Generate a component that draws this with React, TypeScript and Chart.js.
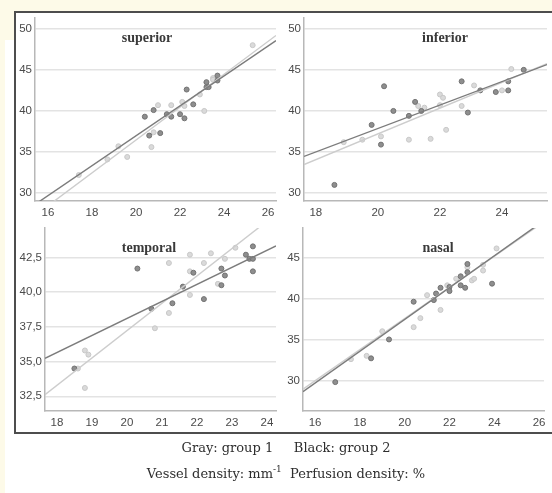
import { useEffect, useRef } from 'react';
import { Chart, registerables } from 'chart.js';

Chart.register(...registerables);

// ---------- data ----------
// superior
const supG1X = [17.4, 18.7, 19.2, 19.6, 20.7, 20.8, 21.0, 21.6, 22.1, 22.2, 22.9, 23.1, 23.5, 23.5, 25.3];
const supG1Y = [32.2, 34.1, 35.7, 34.4, 35.6, 37.4, 40.7, 40.7, 41.1, 40.6, 42.0, 40.0, 44.0, 43.8, 48.0];
const supG2X = [20.4, 20.6, 20.8, 21.1, 21.4, 21.6, 22.0, 22.2, 22.3, 22.6, 23.2, 23.2, 23.3, 23.7, 23.7];
const supG2Y = [39.3, 37.0, 40.1, 37.3, 39.6, 39.3, 39.6, 39.1, 42.6, 40.8, 43.5, 42.9, 42.9, 44.3, 43.7];
const supFit1X = [15.41, 26.36];
const supFit1Y = [27.28, 49.18];
const supFit2X = [15.41, 26.36];
const supFit2Y = [28.62, 48.55];
const supXRange = [15.41, 26.36];
const supYRange = [29.04, 51.32];
const supXTicks = [16, 18, 20, 22, 24, 26];
const supYTicks = [30, 35, 40, 45, 50];
const supXLabels = ['16', '18', '20', '22', '24', '26'];
const supYLabels = ['30', '35', '40', '45', '50'];

// inferior
const infG1X = [18.9, 19.5, 20.1, 21.0, 21.3, 21.5, 21.7, 22.0, 22.1, 22.0, 22.2, 22.7, 23.1, 24.0, 24.3];
const infG1Y = [36.2, 36.5, 36.9, 36.5, 40.6, 40.4, 36.6, 42.0, 41.6, 40.7, 37.7, 40.6, 43.1, 42.5, 45.1];
const infG2X = [18.6, 19.8, 20.1, 20.2, 20.5, 21.0, 21.2, 21.4, 22.7, 22.9, 23.3, 23.8, 24.2, 24.2, 24.7];
const infG2Y = [31.0, 38.3, 35.9, 43.0, 40.0, 39.4, 41.1, 40.0, 43.6, 39.8, 42.5, 42.3, 43.6, 42.5, 45.0];
const infFit1X = [17.62, 25.45];
const infFit1Y = [33.48, 45.75];
const infFit2X = [17.62, 25.45];
const infFit2Y = [34.46, 45.64];
const infXRange = [17.62, 25.45];
const infYRange = [29.04, 51.32];
const infXTicks = [18, 20, 22, 24];
const infYTicks = [30, 35, 40, 45, 50];
const infXLabels = ['18', '20', '22', '24'];
const infYLabels = ['30', '35', '40', '45', '50'];

// temporal
const temG1X = [18.6, 18.8, 18.9, 18.8, 20.8, 21.2, 21.2, 21.8, 21.8, 21.8, 22.2, 22.4, 22.6, 22.8, 23.1];
const temG1Y = [34.5, 35.8, 35.5, 33.1, 37.4, 42.1, 38.5, 42.7, 41.5, 39.8, 42.1, 42.8, 40.6, 42.4, 43.2];
const temG2X = [18.5, 20.3, 20.7, 21.3, 21.6, 21.9, 22.2, 22.7, 22.8, 22.7, 23.4, 23.5, 23.6, 23.6, 23.6];
const temG2Y = [34.5, 41.7, 38.8, 39.2, 40.4, 41.4, 39.5, 41.7, 41.2, 40.5, 42.7, 42.4, 43.3, 42.4, 41.5];
const temFit1X = [17.66, 24.26];
const temFit1Y = [32.62, 45.62];
const temFit2X = [17.66, 24.26];
const temFit2Y = [35.24, 43.33];
const temXRange = [17.66, 24.26];
const temYRange = [31.44, 44.63];
const temXTicks = [18, 19, 20, 21, 22, 23, 24];
const temYTicks = [32.5, 35, 37.5, 40, 42.5];
const temXLabels = ['18', '19', '20', '21', '22', '23', '24'];
const temYLabels = ['32,5', '35,0', '37,5', '40,0', '42,5'];

// nasal
const nasG1X = [17.6, 18.3, 19.0, 20.4, 20.7, 21.0, 21.6, 21.9, 22.3, 22.8, 23.0, 23.1, 23.5, 23.5, 24.1];
const nasG1Y = [32.6, 33.0, 36.0, 36.5, 37.6, 40.4, 38.6, 41.6, 42.4, 43.8, 42.2, 42.4, 43.4, 44.1, 46.1];
const nasG2X = [16.9, 18.5, 19.3, 20.4, 21.3, 21.4, 21.6, 22.0, 22.0, 22.5, 22.5, 22.7, 22.8, 22.8, 23.9];
const nasG2Y = [29.8, 32.7, 35.0, 39.6, 39.8, 40.6, 41.3, 41.4, 40.9, 42.7, 41.6, 41.3, 44.2, 43.2, 41.8];
const nasFit1X = [15.46, 26.22];
const nasFit1Y = [28.95, 49.35];
const nasFit2X = [15.46, 26.22];
const nasFit2Y = [28.63, 49.5];
const nasXRange = [15.46, 26.22];
const nasYRange = [26.28, 48.6];
const nasXTicks = [16, 18, 20, 22, 24, 26];
const nasYTicks = [30, 35, 40, 45];
const nasXLabels = ['16', '18', '20', '22', '24', '26'];
const nasYLabels = ['30', '35', '40', '45'];

const titles = ['superior', 'inferior', 'temporal', 'nasal'];
const legendLine = ['Gray: group 1', 'Black: group 2'];

// ---------- helpers ----------
const pts = (xs: number[], ys: number[]) => xs.map((x, i) => ({ x, y: ys[i] }));

type PanelProps = {
  g1x: number[]; g1y: number[]; g2x: number[]; g2y: number[];
  f1x: number[]; f1y: number[]; f2x: number[]; f2y: number[];
  xr: number[]; yr: number[];
  xt: number[]; yt: number[]; xl: string[]; yl: string[];
  left: number; top: number; width: number; height: number;
  yw: number; xh: number; pt: number; pr: number;
};

const TICK_FONT = { family: "'Liberation Sans Narrow', 'Liberation Sans', Arial, sans-serif", size: 11.5 };

function Panel(p: PanelProps) {
  const ref = useRef<HTMLCanvasElement | null>(null);
  useEffect(() => {
    if (!ref.current) return;
    const chart = new Chart(ref.current, {
      type: 'scatter',
      data: {
        datasets: [
          { data: pts(p.f2x, p.f2y), showLine: true, pointRadius: 0, borderColor: '#7c7c7c', borderWidth: 1.4, order: 0 } as any,
          { data: pts(p.f1x, p.f1y), showLine: true, pointRadius: 0, borderColor: '#cdcdcd', borderWidth: 1.4, order: 1 } as any,
          { data: pts(p.g2x, p.g2y), pointRadius: 2.5, backgroundColor: '#8e8e8e', borderColor: '#727272', borderWidth: 1, order: 2 },
          { data: pts(p.g1x, p.g1y), pointRadius: 2.5, backgroundColor: '#dadada', borderColor: '#c8c8c8', borderWidth: 1, order: 3 },
        ],
      },
      options: {
        animation: false,
        responsive: false,
        events: [],
        layout: { padding: { left: 0, top: p.pt, right: p.pr, bottom: 0 } },
        plugins: { legend: { display: false }, tooltip: { enabled: false }, title: { display: false } },
        scales: {
          x: {
            type: 'linear',
            min: p.xr[0],
            max: p.xr[1],
            afterBuildTicks: (s: any) => { s.ticks = p.xt.map((v) => ({ value: v })); },
            afterFit: (s: any) => { s.height = p.xh; },
            grid: { display: false, drawTicks: false },
            border: { display: true, color: '#b8b8b8', width: 1.5 },
            ticks: {
              color: '#4a4a4a', font: TICK_FONT, padding: 5, autoSkip: false, maxRotation: 0,
              callback: (_v: any, i: number) => p.xl[i],
            },
          },
          y: {
            type: 'linear',
            min: p.yr[0],
            max: p.yr[1],
            afterBuildTicks: (s: any) => { s.ticks = p.yt.map((v) => ({ value: v })); },
            afterFit: (s: any) => { s.width = p.yw; },
            grid: { color: '#e3e3e3', lineWidth: 1.5, drawTicks: false },
            border: { display: true, color: '#b8b8b8', width: 1.5 },
            ticks: {
              color: '#4a4a4a', font: TICK_FONT, padding: 3, autoSkip: false,
              callback: (_v: any, i: number) => p.yl[i],
            },
          },
        },
      },
    });
    return () => chart.destroy();
  }, []);
  return (
    <canvas
      ref={ref}
      width={p.width}
      height={p.height}
      style={{ position: 'absolute', left: p.left, top: p.top, width: p.width, height: p.height }}
    />
  );
}

const titleStyle = (x: number, y: number): React.CSSProperties => ({
  position: 'absolute', left: x, top: y, transform: 'translate(-50%, -50%)',
  fontFamily: "'Liberation Serif', 'Times New Roman', serif", fontWeight: 'bold', fontSize: 14,
  color: '#3a3a3a', whiteSpace: 'nowrap',
});

const footStyle = (y: number): React.CSSProperties => ({
  position: 'absolute', left: 0, width: 572, top: y, transform: 'translateY(-50%)', textAlign: 'center',
  fontFamily: "'DejaVu Serif', serif", fontSize: 13, color: '#2e2e2e', whiteSpace: 'pre',
});

export default function App() {
  return (
    <div style={{ position: 'fixed', left: 0, top: 0, width: 552, height: 493, overflow: 'hidden', background: '#fdfae8' }}>
      <div style={{ position: 'absolute', left: 5, top: 40, width: 560, height: 460, background: '#ffffff' }} />
      <div style={{ position: 'absolute', left: 14, top: 11, width: 600, height: 419, background: '#ffffff', border: '2px solid #4d4d4d' }} />
      <Panel g1x={supG1X} g1y={supG1Y} g2x={supG2X} g2y={supG2Y} f1x={supFit1X} f1y={supFit1Y} f2x={supFit2X} f2y={supFit2Y}
        xr={supXRange} yr={supYRange} xt={supXTicks} yt={supYTicks} xl={supXLabels} yl={supYLabels}
        left={14} top={8} width={270} height={220} yw={21} xh={27} pt={7} pr={8} />
      <Panel g1x={infG1X} g1y={infG1Y} g2x={infG2X} g2y={infG2Y} f1x={infFit1X} f1y={infFit1Y} f2x={infFit2X} f2y={infFit2Y}
        xr={infXRange} yr={infYRange} xt={infXTicks} yt={infYTicks} xl={infXLabels} yl={infYLabels}
        left={284} top={8} width={268} height={220} yw={20} xh={27} pt={7} pr={0} />
      <Panel g1x={temG1X} g1y={temG1Y} g2x={temG2X} g2y={temG2Y} f1x={temFit1X} f1y={temFit1Y} f2x={temFit2X} f2y={temFit2Y}
        xr={temXRange} yr={temYRange} xt={temXTicks} yt={temYTicks} xl={temXLabels} yl={temYLabels}
        left={15} top={218} width={269} height={220} yw={30} xh={27} pt={7} pr={8} />
      <Panel g1x={nasG1X} g1y={nasG1Y} g2x={nasG2X} g2y={nasG2Y} f1x={nasFit1X} f1y={nasFit1Y} f2x={nasFit2X} f2y={nasFit2Y}
        xr={nasXRange} yr={nasYRange} xt={nasXTicks} yt={nasYTicks} xl={nasXLabels} yl={nasYLabels}
        left={284} top={218} width={268} height={220} yw={19} xh={27} pt={7} pr={8} />
      <div style={titleStyle(147, 38)}>{titles[0]}</div>
      <div style={titleStyle(445, 38)}>{titles[1]}</div>
      <div style={titleStyle(149, 248)}>{titles[2]}</div>
      <div style={titleStyle(438, 248)}>{titles[3]}</div>
      <div style={footStyle(447)}>{legendLine[0] + '     ' + legendLine[1]}</div>
      <div style={footStyle(473)}>
        Vessel density: mm<sup style={{ fontSize: 9, lineHeight: 0 }}>-1</sup>{'  '}Perfusion density: %
      </div>
    </div>
  );
}
